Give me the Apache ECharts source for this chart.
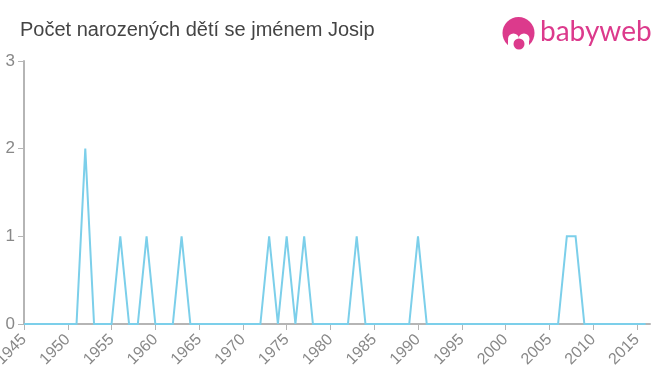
<!DOCTYPE html>
<html>
<head>
<meta charset="utf-8">
<style>
  html, body { margin: 0; padding: 0; background: #fff; }
  #chart { width: 660px; height: 375px; }
</style>
<script src="https://cdn.jsdelivr.net/npm/echarts@6/dist/echarts.min.js"></script>
</head>
<body>
<div id="chart"></div>
<script>
const titleText = 'Počet narozených dětí se jménem Josip'
const logoText = 'babyweb'
const years = [1945, 1946, 1947, 1948, 1949, 1950, 1951, 1952, 1953, 1954, 1955, 1956, 1957, 1958, 1959, 1960, 1961, 1962, 1963, 1964, 1965, 1966, 1967, 1968, 1969, 1970, 1971, 1972, 1973, 1974, 1975, 1976, 1977, 1978, 1979, 1980, 1981, 1982, 1983, 1984, 1985, 1986, 1987, 1988, 1989, 1990, 1991, 1992, 1993, 1994, 1995, 1996, 1997, 1998, 1999, 2000, 2001, 2002, 2003, 2004, 2005, 2006, 2007, 2008, 2009, 2010, 2011, 2012, 2013, 2014, 2015, 2016]
const counts = [0, 0, 0, 0, 0, 0, 0, 2, 0, 0, 0, 1, 0, 0, 1, 0, 0, 0, 1, 0, 0, 0, 0, 0, 0, 0, 0, 0, 1, 0, 1, 0, 1, 0, 0, 0, 0, 0, 1, 0, 0, 0, 0, 0, 0, 1, 0, 0, 0, 0, 0, 0, 0, 0, 0, 0, 0, 0, 0, 0, 0, 0, 1, 1, 0, 0, 0, 0, 0, 0, 0, 0]
const xTicks = [1945, 1950, 1955, 1960, 1965, 1970, 1975, 1980, 1985, 1990, 1995, 2000, 2005, 2010, 2015]
const yTicks = [0, 1, 2, 3]

const pink = '#dc3a8c'
const chart = echarts.init(document.getElementById('chart'))

chart.setOption({
  animation: false,
  backgroundColor: '#fff',
  textStyle: { fontFamily: 'Liberation Sans' },
  title: {
    text: titleText,
    left: 15,
    top: 15,
    textStyle: { fontSize: 20, fontWeight: 'normal', color: '#444', fontFamily: 'Liberation Sans' },
  },
  grid: { left: 24, right: 10, top: 61, bottom: 51, outerBoundsMode: 'none' },
  xAxis: {
    type: 'value',
    min: 1945,
    max: 2016.5,
    splitLine: { show: false },
    axisLine: { lineStyle: { color: '#b5b5b5', width: 2 } },
    axisTick: { length: 6, customValues: xTicks, lineStyle: { color: '#b5b5b5', width: 1 } },
    axisLabel: {
      customValues: xTicks,
      rotate: 45,
      margin: 13,
      fontSize: 16,
      color: '#888',
      formatter: (v) => String(v),
    },
  },
  yAxis: {
    type: 'value',
    min: 0,
    max: 3,
    interval: 1,
    splitLine: { show: false },
    axisLine: { show: true, lineStyle: { color: '#b5b5b5', width: 2 } },
    axisTick: { show: true, length: 6, lineStyle: { color: '#b5b5b5', width: 1 } },
    axisLabel: { margin: 9, fontSize: 17, color: '#888', customValues: yTicks },
  },
  series: [
    {
      type: 'line',
      data: years.map((y, i) => [y, counts[i]]),
      showSymbol: false,
      symbol: 'none',
      clip: false,
      lineStyle: { color: '#7ccfea', width: 2, join: 'miter' },
    },
  ],
  graphic: [
    { type: 'circle', shape: { cx: 518.5, cy: 33, r: 16 }, style: { fill: pink } },
    { type: 'circle', shape: { cx: 513.5, cy: 39, r: 5.5 }, style: { fill: '#fff' } },
    { type: 'circle', shape: { cx: 524, cy: 39, r: 5.5 }, style: { fill: '#fff' } },
    { type: 'rect', shape: { x: 508, y: 40, width: 21, height: 10 }, style: { fill: '#fff' } },
    { type: 'circle', shape: { cx: 519, cy: 44, r: 5.5 }, style: { fill: pink } },
    {
      type: 'text',
      left: 540,
      top: 18,
      style: { text: logoText, fontSize: 28, fontFamily: 'Lato', fill: pink },
    },
  ],
})
</script>
</body>
</html>
